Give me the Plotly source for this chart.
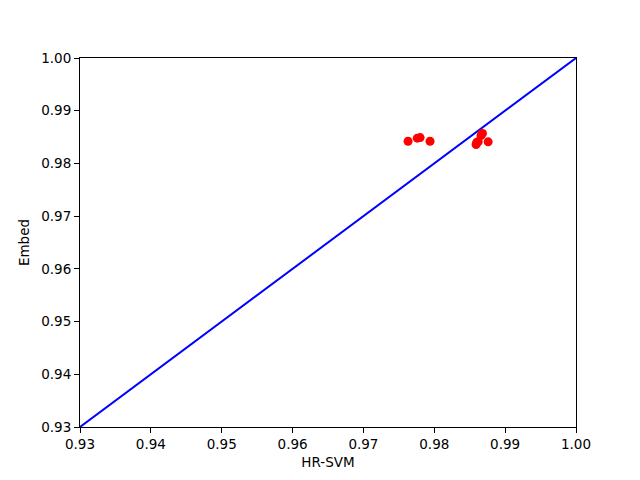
import plotly.graph_objects as go

hr_svm = [0.9763, 0.9776, 0.9780, 0.9794, 0.9859, 0.9860, 0.9862, 0.9866, 0.9868, 0.9876]
embed = [0.9842, 0.9848, 0.9849, 0.9842, 0.9836, 0.9840, 0.9841, 0.9853, 0.9857, 0.9841]
diag = [0.93, 1.00]

fig = go.Figure()

fig.add_trace(go.Scatter(
    x=diag, y=diag, mode="lines",
    line=dict(color="blue", width=2),
    showlegend=False,
))

fig.add_trace(go.Scatter(
    x=hr_svm, y=embed, mode="markers",
    marker=dict(color="red", size=9, line=dict(width=0)),
    showlegend=False,
))

axis_style = dict(
    range=[0.93, 1.00],
    dtick=0.01,
    tickformat=".2f",
    showgrid=False,
    zeroline=False,
    showline=True,
    linecolor="black",
    linewidth=1,
    mirror=True,
    ticks="outside",
    ticklen=5,
    tickcolor="black",
    tickfont=dict(size=13.5, color="black"),
    automargin=False,
)

# page body has an 8px margin, so shift the plot area back by that much
fig.update_layout(
    width=640,
    height=480,
    plot_bgcolor="white",
    paper_bgcolor="white",
    font=dict(family="DejaVu Sans", size=13.5, color="black"),
    margin=dict(l=72, r=72, t=50, b=61),
    xaxis=dict(axis_style, title=dict(text="HR-SVM", font=dict(size=13.5), standoff=6)),
    yaxis=dict(axis_style, title=dict(text="Embed", font=dict(size=13.5), standoff=8)),
)

fig.write_html("out.html")
